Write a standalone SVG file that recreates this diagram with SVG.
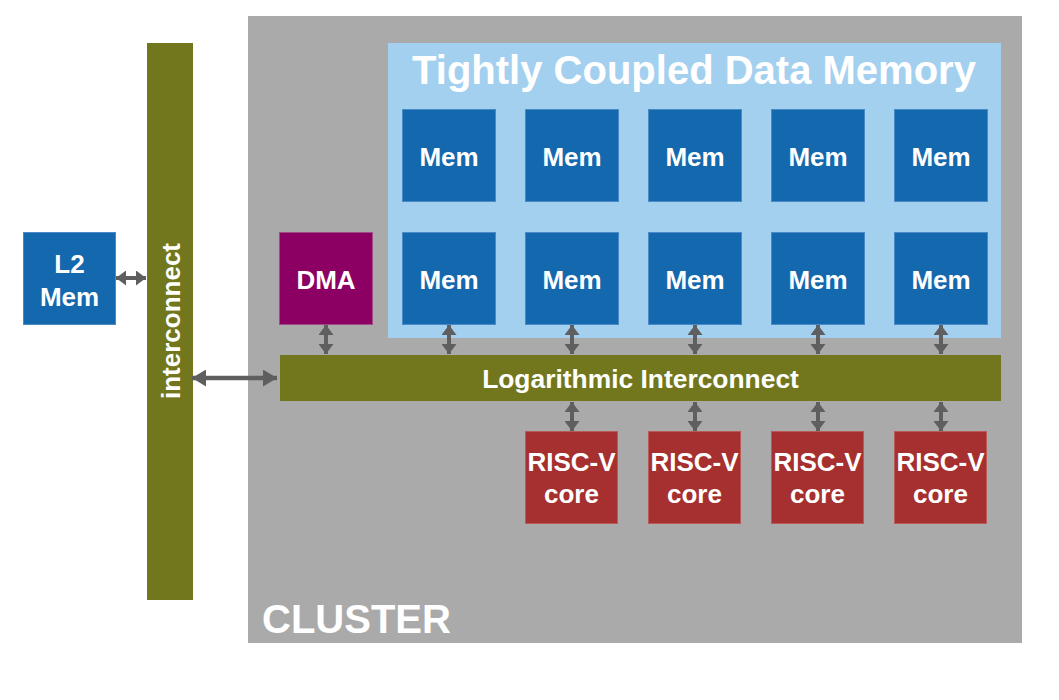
<svg xmlns="http://www.w3.org/2000/svg" width="1059" height="700" viewBox="0 0 1059 700">
<defs>
<style>
.t{font-family:"Liberation Sans",Arial,sans-serif;font-weight:bold;fill:#ffffff;text-anchor:middle}
.mem{fill:#1368ae;stroke:#4a8ac6;stroke-width:1}
.risc{fill:#a5302f;stroke:#b95a59;stroke-width:1}
.bus{fill:#72771d}
.c{stroke:#5f5f5f;stroke-width:4;fill:none;marker-start:url(#ah);marker-end:url(#ah)}
.cb{stroke:#5f5f5f;stroke-width:4.5;fill:none;marker-start:url(#ahb);marker-end:url(#ahb)}
</style>
<marker id="ah" markerUnits="userSpaceOnUse" markerWidth="10" markerHeight="15" refX="10" refY="7.5" orient="auto-start-reverse" viewBox="0 0 10 15">
<path d="M0,0 L10,7.5 L0,15 z" fill="#5f5f5f"/>
</marker>
<marker id="ahb" markerUnits="userSpaceOnUse" markerWidth="14" markerHeight="17" refX="14" refY="8.5" orient="auto-start-reverse" viewBox="0 0 14 17">
<path d="M0,0 L14,8.5 L0,17 z" fill="#5f5f5f"/>
</marker>
</defs>
<rect width="1059" height="700" fill="#ffffff"/>
<g id="cluster">
<rect x="248" y="16" width="774" height="627" fill="#aaaaaa"/>
<text class="t" x="262" y="633" font-size="40" style="text-anchor:start">CLUSTER</text>
</g>
<g id="tcdm">
<rect x="388" y="43" width="613" height="295" fill="#a4d0ef"/>
<text class="t" x="694" y="84" font-size="40">Tightly Coupled Data Memory</text>
</g>
<g id="mem-1-1"><rect class="mem" x="402.5" y="109.5" width="93" height="92"/><text class="t" x="449" y="166" font-size="26">Mem</text></g>
<g id="mem-1-2"><rect class="mem" x="525.5" y="109.5" width="93" height="92"/><text class="t" x="572" y="166" font-size="26">Mem</text></g>
<g id="mem-1-3"><rect class="mem" x="648.5" y="109.5" width="93" height="92"/><text class="t" x="695" y="166" font-size="26">Mem</text></g>
<g id="mem-1-4"><rect class="mem" x="771.5" y="109.5" width="93" height="92"/><text class="t" x="818" y="166" font-size="26">Mem</text></g>
<g id="mem-1-5"><rect class="mem" x="894.5" y="109.5" width="93" height="92"/><text class="t" x="941" y="166" font-size="26">Mem</text></g>
<g id="mem-2-1"><rect class="mem" x="402.5" y="232.5" width="93" height="92"/><text class="t" x="449" y="289" font-size="26">Mem</text></g>
<g id="mem-2-2"><rect class="mem" x="525.5" y="232.5" width="93" height="92"/><text class="t" x="572" y="289" font-size="26">Mem</text></g>
<g id="mem-2-3"><rect class="mem" x="648.5" y="232.5" width="93" height="92"/><text class="t" x="695" y="289" font-size="26">Mem</text></g>
<g id="mem-2-4"><rect class="mem" x="771.5" y="232.5" width="93" height="92"/><text class="t" x="818" y="289" font-size="26">Mem</text></g>
<g id="mem-2-5"><rect class="mem" x="894.5" y="232.5" width="93" height="92"/><text class="t" x="941" y="289" font-size="26">Mem</text></g>
<g id="dma"><rect x="279.5" y="232.5" width="93" height="92" fill="#8d0063" stroke="#a04a86" stroke-width="1"/><text class="t" x="326" y="289" font-size="26">DMA</text></g>
<g id="l2mem"><rect class="mem" x="23.5" y="232.5" width="92" height="92"/><text class="t" x="69.5" y="273" font-size="26">L2</text><text class="t" x="69.5" y="306" font-size="26">Mem</text></g>
<g id="interconnect"><rect class="bus" x="147" y="43" width="46" height="557"/><text class="t" transform="translate(180,321) rotate(-90)" font-size="26">interconnect</text></g>
<g id="log-interconnect"><rect class="bus" x="280" y="355" width="721" height="46"/><text class="t" x="640.5" y="388" font-size="26.4">Logarithmic Interconnect</text></g>
<g id="risc-1"><rect class="risc" x="525.5" y="431.5" width="92" height="92"/><text class="t" x="571.5" y="471" font-size="26">RISC-V</text><text class="t" x="571.5" y="503" font-size="26">core</text></g>
<g id="risc-2"><rect class="risc" x="648.5" y="431.5" width="92" height="92"/><text class="t" x="694.5" y="471" font-size="26">RISC-V</text><text class="t" x="694.5" y="503" font-size="26">core</text></g>
<g id="risc-3"><rect class="risc" x="771.5" y="431.5" width="92" height="92"/><text class="t" x="817.5" y="471" font-size="26">RISC-V</text><text class="t" x="817.5" y="503" font-size="26">core</text></g>
<g id="risc-4"><rect class="risc" x="894.5" y="431.5" width="92" height="92"/><text class="t" x="940.5" y="471" font-size="26">RISC-V</text><text class="t" x="940.5" y="503" font-size="26">core</text></g>
<g id="connectors">
<line class="c" x1="116" y1="278" x2="146" y2="278"/>
<line class="cb" x1="192" y1="378" x2="277" y2="378"/>
<line class="c" x1="326" y1="325" x2="326" y2="354"/>
<line class="c" x1="449" y1="325" x2="449" y2="354"/>
<line class="c" x1="572" y1="325" x2="572" y2="354"/>
<line class="c" x1="695" y1="325" x2="695" y2="354"/>
<line class="c" x1="818" y1="325" x2="818" y2="354"/>
<line class="c" x1="941" y1="325" x2="941" y2="354"/>
<line class="c" x1="572" y1="402" x2="572" y2="431"/>
<line class="c" x1="695" y1="402" x2="695" y2="431"/>
<line class="c" x1="818" y1="402" x2="818" y2="431"/>
<line class="c" x1="941" y1="402" x2="941" y2="431"/>
</g>
</svg>
